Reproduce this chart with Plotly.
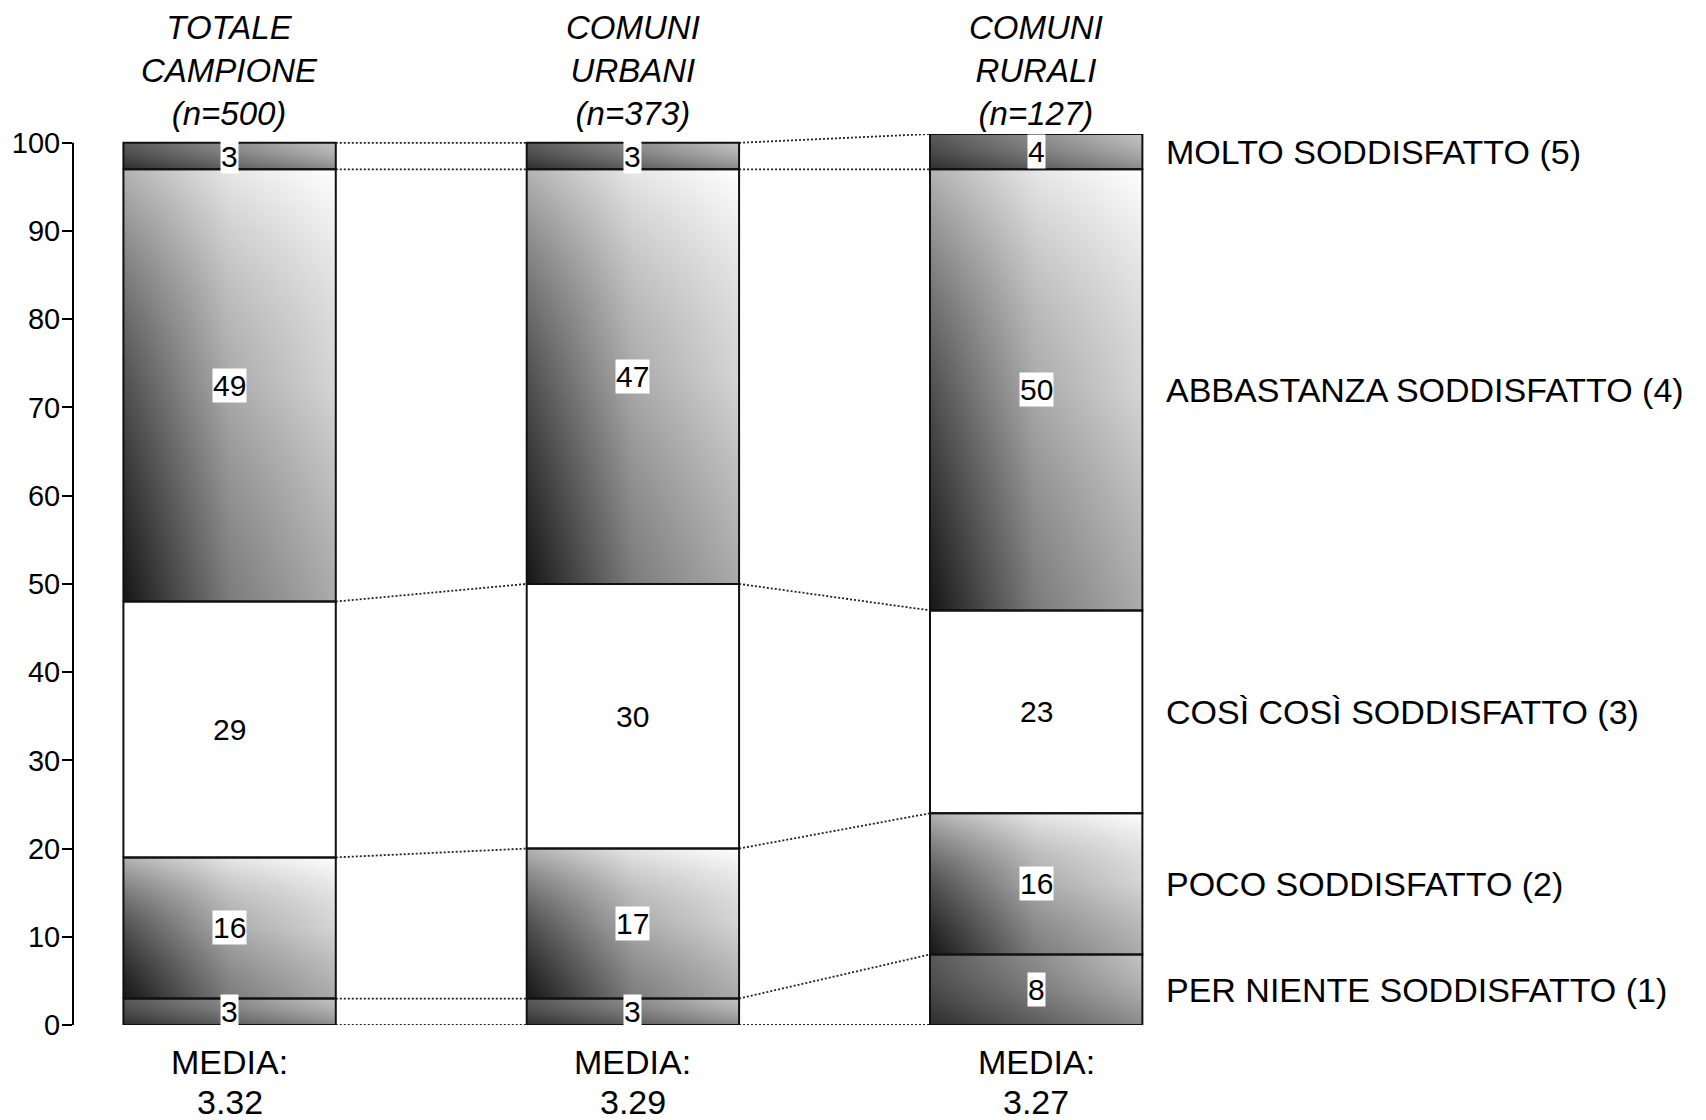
import plotly.graph_objects as go

# Survey groups shown as 100% stacked columns
group_titles = ["TOTALE<br>CAMPIONE<br>(n=500)",
                "COMUNI<br>URBANI<br>(n=373)",
                "COMUNI<br>RURALI<br>(n=127)"]
media_values = ["3.32", "3.29", "3.27"]

# Satisfaction levels, bottom to top of each column
levels = ["PER NIENTE SODDISFATTO (1)",
          "POCO SODDISFATTO (2)",
          "COSÌ COSÌ SODDISFATTO (3)",
          "ABBASTANZA SODDISFATTO (4)",
          "MOLTO SODDISFATTO (5)"]

per_niente = [3, 3, 8]
poco = [16, 17, 16]
cosi = [29, 30, 23]
abbastanza = [49, 47, 50]
molto = [3, 3, 4]

series = [per_niente, poco, cosi, abbastanza, molto]
y_ticks = [0, 10, 20, 30, 40, 50, 60, 70, 80, 90, 100]

FONT = "Liberation Sans, Arial, sans-serif"
HALF = 0.2633  # half column width in x units

# fill styles per level: (horizontal colorscale, vertical overlay colorscale)
thin_fill = ([[0, "#3a3a3a"], [1, "#b8b8b8"]],
             [[0, "rgba(0,0,0,0.25)"], [1, "rgba(255,255,255,0.15)"]])
wide_fill = ([[0, "#202020"], [0.5, "#b8b8b8"], [1, "#ffffff"]],
             [[0, "rgba(0,0,0,0.33)"], [0.5, "rgba(150,150,150,0.4)"],
              [1, "rgba(255,255,255,0.66)"]])
level_fill = [thin_fill, wide_fill, None, wide_fill, thin_fill]

fig = go.Figure()

n_groups = len(group_titles)
cum = []  # cumulative boundaries per group
for g in range(n_groups):
    b = [0]
    for s in series:
        b.append(b[-1] + s[g])
    cum.append(b)

# gradient-filled segments
for g in range(n_groups):
    for k in range(len(series)):
        y0, y1 = cum[g][k], cum[g][k + 1]
        xs = [g - HALF, g + HALF, g + HALF, g - HALF, g - HALF]
        ys = [y0, y0, y1, y1, y0]
        style = level_fill[k]
        if style is None:
            fig.add_trace(go.Scatter(x=xs, y=ys, mode="lines", fill="toself",
                                     fillcolor="white", line=dict(width=0),
                                     hoverinfo="skip", showlegend=False))
            continue
        hscale, vscale = style
        fig.add_trace(go.Scatter(x=xs, y=ys, mode="lines", fill="toself",
                                 fillgradient=dict(type="horizontal", colorscale=hscale),
                                 line=dict(width=0), hoverinfo="skip", showlegend=False))
        fig.add_trace(go.Scatter(x=xs, y=ys, mode="lines", fill="toself",
                                 fillgradient=dict(type="vertical", colorscale=vscale),
                                 line=dict(width=0), hoverinfo="skip", showlegend=False))

# segment outlines
for g in range(n_groups):
    xs, ys = [], []
    for k in range(len(series)):
        y0, y1 = cum[g][k], cum[g][k + 1]
        xs += [g - HALF, g + HALF, g + HALF, g - HALF, g - HALF, None]
        ys += [y0, y0, y1, y1, y0, None]
    fig.add_trace(go.Scatter(x=xs, y=ys, mode="lines",
                             line=dict(color="#111111", width=2),
                             hoverinfo="skip", showlegend=False))

# dotted connectors between adjacent columns
cx, cy = [], []
for g in range(n_groups - 1):
    for k in range(len(series) + 1):
        cx += [g + HALF, g + 1 - HALF, None]
        cy += [cum[g][k], cum[g + 1][k], None]
fig.add_trace(go.Scatter(x=cx, y=cy, mode="lines",
                         line=dict(color="#222222", width=1.8, dash="2px,2px"),
                         hoverinfo="skip", showlegend=False))

annotations = []
# value labels
for g in range(n_groups):
    for k, s in enumerate(series):
        mid = (cum[g][k] + cum[g][k + 1]) / 2
        annotations.append(dict(x=g, y=mid, xref="x", yref="y", text=str(s[g]),
                                showarrow=False, font=dict(family=FONT, size=30, color="black"),
                                bgcolor="white", borderpad=0))
# group titles and means
for g in range(n_groups):
    annotations.append(dict(x=g, y=1, xref="x", yref="paper", text=group_titles[g],
                            showarrow=False, yanchor="bottom", yshift=0,
                            font=dict(family=FONT, size=33, color="black", style="italic")))
    annotations.append(dict(x=g, y=0, xref="x", yref="paper", text="MEDIA:",
                            showarrow=False, yanchor="top", yshift=-16,
                            font=dict(family=FONT, size=34, color="black")))
    annotations.append(dict(x=g, y=0, xref="x", yref="paper", text=media_values[g],
                            showarrow=False, yanchor="top", yshift=-56,
                            font=dict(family=FONT, size=34, color="black")))
# level names beside the last column
last = n_groups - 1
for k, name in enumerate(levels):
    mid = (cum[last][k] + cum[last][k + 1]) / 2
    annotations.append(dict(x=last + HALF, y=mid, xref="x", yref="y", text=name,
                            showarrow=False, xanchor="left", xshift=22,
                            font=dict(family=FONT, size=34, color="black")))

fig.update_layout(
    width=1706, height=1120,
    margin=dict(l=73, r=546, t=134, b=95),
    paper_bgcolor="white", plot_bgcolor="white",
    showlegend=False,
    annotations=annotations,
    shapes=[dict(type="line", xref="paper", yref="y", x0=0, x1=0, y0=0, y1=100,
                 line=dict(color="black", width=2))],
    xaxis=dict(range=[-0.3883, 2.3070], visible=False),
    yaxis=dict(range=[0, 101], tickvals=y_ticks, ticks="outside", ticklen=10,
               tickwidth=2, tickcolor="black", showgrid=False, zeroline=False,
               showline=False, ticklabelstandoff=-4,
               tickfont=dict(family=FONT, size=29, color="black")),
)

fig.write_html("out.html")
